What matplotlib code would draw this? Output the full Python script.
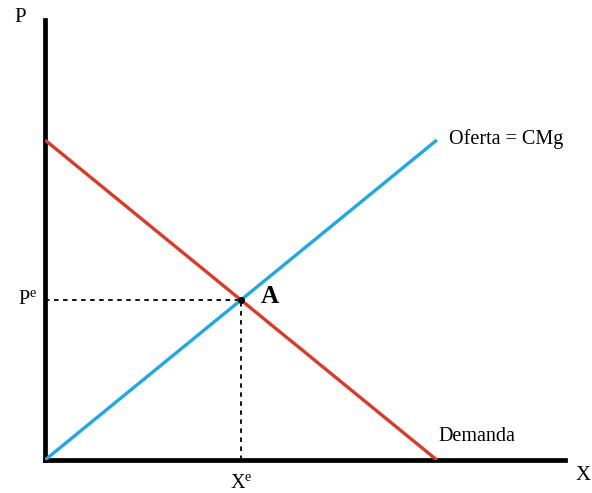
import matplotlib
matplotlib.use("Agg")
import matplotlib.pyplot as plt

plt.rcParams['font.family'] = ['Liberation Serif', 'DejaVu Serif']
plt.rcParams['mathtext.fontset'] = 'custom'
plt.rcParams['mathtext.rm'] = 'Liberation Serif'
plt.rcParams['mathtext.it'] = 'Liberation Serif:italic'

# data
qty = [0, 10]
demand = [10, 0]
supply = [0, 10]
x_eq = 5
p_eq = 5

fig = plt.figure(figsize=(5.92, 4.93), dpi=100)
ax = fig.add_axes([45/592, 33/493, 520/592, 440/493])
ax.set_xlim(0, 13.27)
ax.set_ylim(0, 13.75)

ax.plot(qty, demand, color='#dc3a26', lw=2.4, solid_capstyle='butt', zorder=3)
ax.plot(qty, supply, color='#1ea8e8', lw=2.4, solid_capstyle='butt', zorder=3)

ax.plot([0, x_eq], [p_eq, p_eq], color='black', lw=1.3, ls=(0, (2.5, 2.5)), zorder=2)
ax.plot([x_eq, x_eq], [0, p_eq], color='black', lw=1.3, ls=(0, (2.5, 2.5)), zorder=2)
ax.plot([x_eq], [p_eq], 'o', color='black', ms=4, zorder=4)

for s in ['top', 'right']:
    ax.spines[s].set_visible(False)
ax.spines['left'].set_linewidth(3.4)
ax.spines['bottom'].set_linewidth(3.4)
ax.set_xticks([])
ax.set_yticks([])
ax.patch.set_alpha(0)

ax.text(-0.64, 13.84, 'P', fontsize=15, ha='center', va='center', clip_on=False)
ax.text(13.72, -0.5, 'X', fontsize=15, ha='center', va='center', clip_on=False)
ax.text(-0.2, p_eq, r'P$^{\mathrm{e}}$', fontsize=14.5, ha='right', va='center', clip_on=False)
ax.text(x_eq, -0.72, r'X$^{\mathrm{e}}$', fontsize=14.5, ha='center', va='center', clip_on=False)
ax.text(x_eq + 0.5, p_eq + 0.1, 'A', fontsize=18, fontweight='bold', ha='left', va='center')
ax.text(10.3, 10.03, 'Oferta = CMg', fontsize=14.5, ha='left', va='center')
ax.text(10.03, 0.72, 'Demanda', fontsize=14.5, ha='left', va='center')

fig.savefig('out.png', dpi=100)
